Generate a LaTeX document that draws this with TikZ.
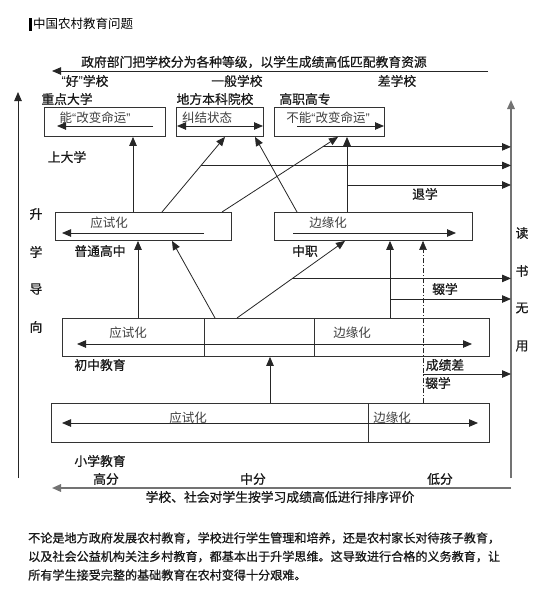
\documentclass[tikz,border=0pt]{standalone}
\usepackage{fontspec}
\setmainfont{Noto Sans CJK SC}
\newfontfamily\bfcjk{Noto Sans CJK SC}[FakeBold=0.7]
\newfontfamily\qf{Liberation Sans}
\usetikzlibrary{arrows.meta,calc}
\newcommand{\myoq}{{\qf “}}
\newcommand{\mycq}{{\qf ”}}
\begin{document}
\begin{tikzpicture}[x=1pt,y=-1pt,
  lbl/.style={inner sep=0pt, font=\bfcjk\fontsize{12.8}{14}\selectfont, text=black!90},
  inlbl/.style={inner sep=0pt, font=\fontsize{12.5}{14}\selectfont, text=black!75},
  para/.style={inner sep=0pt, anchor=west, font=\bfcjk\fontsize{12.1}{14}\selectfont, text=black!90},
  boxn/.style={draw=black!80, line width=0.9pt, inner sep=0pt, anchor=north west},
  ar/.style={-{Triangle[length=9pt,width=7.5pt]}, line width=0.8pt, draw=black!85},
  dar/.style={{Triangle[length=9pt,width=7.5pt]}-{Triangle[length=9pt,width=7.5pt]}, line width=0.8pt, draw=black!85},
  gar/.style={-{Triangle[length=9pt,width=7.5pt]}, draw=black!55, line width=1.6pt},
  ddash/.style={-{Triangle[length=9pt,width=7.5pt]}, draw=black!85, line width=0.5pt, dash pattern=on 5pt off 2pt on 1pt off 2pt}
]
\useasboundingbox (0,0) rectangle (559,605);
\fill[white] (0,0) rectangle (559,605);

% title
\fill[black] (29,18) rectangle (31.5,31);
\node[inner sep=0pt, anchor=west, font=\fontsize{12.5}{14}\selectfont] (title) at (33,24) {中国农村教育问题};

% top axis
\node[lbl] (toptxt) at (254,62) {政府部门把学校分为各种等级，以学生成绩高低匹配教育资源};
\coordinate (T1) at (488,71);
\coordinate (T0) at (52,71);
\draw[ar] (T1) -- (T0);
\node[lbl] (good) at (85,81) {\myoq 好\mycq 学校};
\node[lbl] (mid) at (237,81) {一般学校};
\node[lbl] (bad) at (397,81) {差学校};

% side axes
\coordinate (Lbot) at (18,478);
\coordinate (Ltop) at (18,92);
\draw[ar] (Lbot) -- (Ltop);
\coordinate (Rbot) at (511,478);
\coordinate (Rtop) at (511,100);
\draw[gar] (Rbot) -- (Rtop);
\node[lbl] (s1) at (36,214) {升};
\node[lbl] (s2) at (36,252) {学};
\node[lbl] (s3) at (36,289) {导};
\node[lbl] (s4) at (36,327) {向};
\node[lbl] (d1) at (522,233) {读};
\node[lbl] (d2) at (522,271) {书};
\node[lbl] (d3) at (522,308) {无};
\node[lbl] (d4) at (522,346) {用};

% university level
\node[lbl] (u1l) at (67,99) {重点大学};
\node[lbl] (u2l) at (215,99) {地方本科院校};
\node[lbl] (u3l) at (305,99) {高职高专};
\node[boxn, minimum width=121, minimum height=29] (b1) at (44,107) {};
\node[boxn, minimum width=87, minimum height=29] (b2) at (176,107) {};
\node[boxn, minimum width=110, minimum height=29] (b3) at (274,107) {};
\node[inlbl] (b1t) at (95,118) {能\myoq 改变命运\mycq};
\node[inlbl] (b2t) at (207,118) {纠结状态};
\node[inlbl] (b3t) at (328,118) {不能\myoq 改变命运\mycq};
\coordinate (b1a) at (153,126); \coordinate (b1b) at (57,126);
\draw[ar] (b1a) -- (b1b);
\coordinate (b2a) at (177,126); \coordinate (b2b) at (263,126);
\draw[dar] (b2a) -- (b2b);
\coordinate (b3a) at (297,126); \coordinate (b3b) at (384,126);
\draw[ar] (b3a) -- (b3b);
\node[lbl] (up) at (67,157) {上大学};

% high school level
\node[boxn, minimum width=176, minimum height=28] (g1) at (55,212) {};
\node[boxn, minimum width=198, minimum height=28] (z1) at (274,212) {};
\node[inlbl] (g1t) at (109,223) {应试化};
\node[inlbl] (z1t) at (328,223) {边缘化};
\coordinate (g1a) at (204,233); \coordinate (g1b) at (62,233);
\draw[ar] (g1a) -- (g1b);
\coordinate (z1a) at (293,233); \coordinate (z1b) at (456,233);
\draw[ar] (z1a) -- (z1b);
\node[lbl] (g1l) at (100,251) {普通高中};
\node[lbl] (z1l) at (305,251) {中职};

% arrows high school -> university
\coordinate (a1s) at ([xshift=78]g1.north west);
\coordinate (a1e) at ([xshift=89]b1.south west);
\draw[ar] (a1s) -- (a1e);
\coordinate (a2s) at ([xshift=107]g1.north west);
\coordinate (a2e) at ([xshift=49]b2.south west);
\draw[ar] (a2s) -- (a2e);
\coordinate (a3s) at ([xshift=167]g1.north west);
\coordinate (a3e) at ([xshift=64]b3.south west);
\draw[ar] (a3s) -- (a3e);
\coordinate (a4s) at ([xshift=23]z1.north west);
\coordinate (a4e) at ([xshift=79]b2.south west);
\draw[ar] (a4s) -- (a4e);
\coordinate (a5s) at ([xshift=73]z1.north west);
\coordinate (a5e) at ([xshift=73]b3.south west);
\draw[ar] (a5s) -- (a5e);
\coordinate (h1s) at ($(a3s)!0.867!(a3e)$);
\draw[ar] (h1s) -- (h1s -| Rtop);
\coordinate (h2s) at ($(a2s)!0.62!(a2e)$);
\draw[ar] (h2s) -- (h2s -| Rtop);
\coordinate (h3s) at (347,185);
\draw[ar] (h3s) -- (h3s -| Rtop);
\node[lbl] (tui) at (425,194) {退学};

% junior level
\node[boxn, minimum width=427, minimum height=38] (c1) at (62,318) {};
\draw[draw=black!80, line width=0.9pt] ([xshift=142]c1.north west) -- ([xshift=142]c1.south west);
\draw[draw=black!80, line width=0.9pt] ([xshift=252]c1.north west) -- ([xshift=252]c1.south west);
\node[inlbl] (c1t) at (128,333) {应试化};
\node[inlbl] (c1u) at (352,333) {边缘化};
\coordinate (c1m) at (259,344); \coordinate (c1a) at (77,344); \coordinate (c1b) at (472,344);
\draw[ar] (c1m) -- (c1a);
\draw[ar] (c1m) -- (c1b);
\node[lbl] (c1l) at (100,365) {初中教育};

% arrows junior -> high school
\coordinate (e1s) at ([xshift=76]c1.north west);
\coordinate (e1e) at ([xshift=83]g1.south west);
\draw[ar] (e1s) -- (e1e);
\coordinate (e2s) at ([xshift=153]c1.north west);
\coordinate (e2e) at ([xshift=117]g1.south west);
\draw[ar] (e2s) -- (e2e);
\coordinate (e3s) at ([xshift=175]c1.north west);
\coordinate (e3e) at ([xshift=71]z1.south west);
\draw[ar] (e3s) -- (e3e);
\coordinate (e4s) at ([xshift=328]c1.north west);
\coordinate (e4e) at ([xshift=116]z1.south west);
\draw[ar] (e4s) -- (e4e);
\coordinate (h4s) at ($(e3s)!0.5135!(e3e)$);
\draw[ar] (h4s) -- (h4s -| Rtop);
\coordinate (h5s) at (390,299);
\draw[ar] (h5s) -- (h5s -| Rtop);
\node[lbl] (chuo1) at (445,289) {辍学};

% primary level
\node[boxn, minimum width=438, minimum height=39] (x1) at (51,403) {};
\draw[draw=black!80, line width=0.9pt] ([xshift=317]x1.north west) -- ([xshift=317]x1.south west);
\node[inlbl] (x1t) at (188,418) {应试化};
\node[inlbl] (x1u) at (392,418) {边缘化};
\coordinate (x1m) at (300,423); \coordinate (x1a) at (62,423); \coordinate (x1b) at (478,423);
\draw[ar] (x1m) -- (x1a);
\draw[ar] (x1m) -- (x1b);
\node[lbl] (x1l) at (100,461) {小学教育};

% primary -> junior, dropout
\coordinate (f1s) at ([xshift=219]x1.north west);
\coordinate (f1e) at ([xshift=208]c1.south west);
\draw[ar] (f1s) -- (f1e);
\coordinate (f2s) at ([xshift=372]x1.north west);
\coordinate (f2e) at ([xshift=149]z1.south west);
\draw[ddash] (f2s) -- (f2e);
\node[lbl] (cjc) at (445,365) {成绩差};
\coordinate (h6s) at (423,374);
\draw[ar] (h6s) -- (h6s -| Rtop);
\node[lbl] (chuo2) at (438,383) {辍学};

% bottom axis
\node[lbl] (hi) at (106,479) {高分};
\node[lbl] (md) at (253,479) {中分};
\node[lbl] (lo) at (440,479) {低分};
\coordinate (B1) at (511,488);
\coordinate (B0) at (52,488);
\draw[gar] (B1) -- (B0);
\node[lbl] (bottxt) at (280,497) {学校、社会对学生按学习成绩高低进行排序评价};

% paragraph
\node[para] (p1) at (28,538) {不论是地方政府发展农村教育，学校进行学生管理和培养，还是农村家长对待孩子教育，};
\node[para] (p2) at (28,556.5) {以及社会公益机构关注乡村教育，都基本出于升学思维。这导致进行合格的义务教育，让};
\node[para] (p3) at (28,575) {所有学生接受完整的基础教育在农村变得十分艰难。};
\end{tikzpicture}
\end{document}
